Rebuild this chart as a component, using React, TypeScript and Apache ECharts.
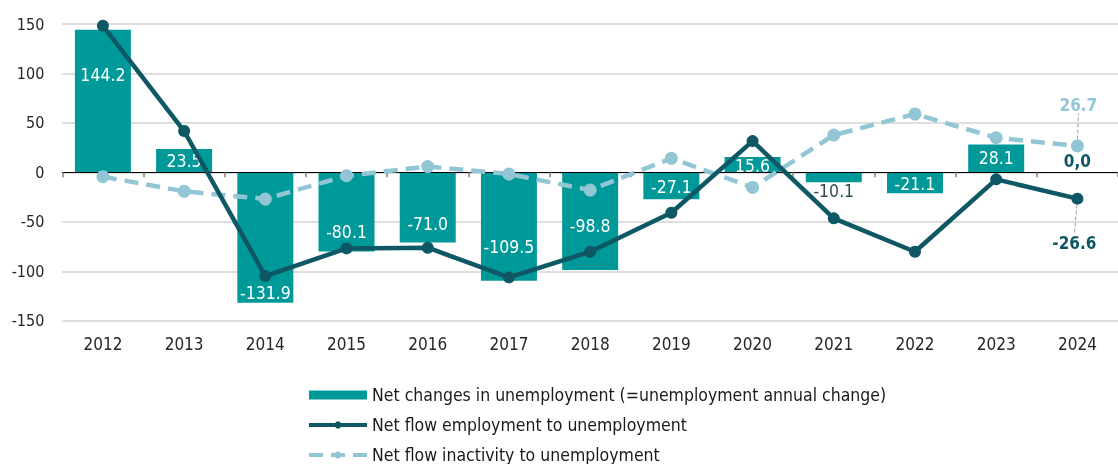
import React, { useEffect, useRef } from "react";
import * as echarts from "echarts";

const categories = ["2012", "2013", "2014", "2015", "2016", "2017", "2018", "2019", "2020", "2021", "2022", "2023", "2024"];
const netChange = [144.2, 23.5, -131.9, -80.1, -71.0, -109.5, -98.8, -27.1, 15.6, -10.1, -21.1, 28.1, 0.0];
const flowEmployment = [148.2, 41.8, -104.9, -76.9, -76.2, -106.2, -80.3, -40.8, 31.6, -46.5, -80.3, -7.1, -26.6];
const flowInactivity = [-4.4, -19.2, -27.0, -3.4, 5.8, -1.7, -17.9, 14.2, -15.2, 37.7, 59.0, 35.0, 26.7];
const seriesNames = [
  "Net changes in unemployment (=unemployment annual change)",
  "Net flow employment to unemployment",
  "Net flow inactivity to unemployment",
];
const yTicks = { min: -150, max: 150, interval: 50 };

// label styling (pixel shifts of bar labels)
const barLabelDy = [-26, 0, 55, 20, 17, 21, 5, 1, 1, 14, 1, 0, -11];

const FONT = "'DejaVu Sans Condensed', 'DejaVu Sans', sans-serif";
const TEAL = "#009999";
const DARK = "#0d5864";
const LIGHT = "#93c6d4";

export default function App() {
  const ref = useRef<HTMLDivElement>(null);
  useEffect(() => {
    if (!ref.current) return;
    const chart = echarts.init(ref.current, null, { renderer: "svg" });
    const last = categories.length - 1;
    chart.setOption({
      animation: false,
      textStyle: { fontFamily: FONT },
      grid: { left: 62.3, top: 24, right: -12, bottom: 143.3, containLabel: false },
      legend: {
        orient: "vertical",
        left: 302,
        top: 380,
        height: 120,
        itemWidth: 58,
        itemHeight: 9,
        itemGap: 10,
        textStyle: { fontFamily: FONT, fontSize: 17.5, color: "#1a1a1a", lineHeight: 20 },
        data: [
          { name: seriesNames[0], icon: "rect" },
          { name: seriesNames[1], lineStyle: { width: 4 } },
          { name: seriesNames[2], lineStyle: { width: 4 } },
        ],
      },
      xAxis: [
        {
          type: "category",
          data: categories,
          position: "bottom",
          axisLine: { show: true, onZero: true, lineStyle: { color: "#000", width: 1 } },
          axisTick: { show: true, length: 5, lineStyle: { color: "#7f7f7f", width: 1.5 } },
          axisLabel: { show: false },
          z: 3,
        },
        {
          type: "category",
          data: categories,
          position: "bottom",
          axisLine: { show: false, onZero: false },
          axisTick: { show: false },
          axisLabel: { show: true, margin: 15, fontSize: 17, color: "#262626", fontFamily: FONT },
        },
      ],
      yAxis: {
        type: "value",
        min: yTicks.min,
        max: yTicks.max,
        interval: yTicks.interval,
        axisLine: { show: false },
        axisTick: { show: false },
        axisLabel: { fontSize: 16, color: "#262626", margin: 18, fontFamily: FONT },
        splitLine: { lineStyle: { color: "#dedede", width: 2 } },
      },
      series: [
        {
          name: seriesNames[0],
          type: "bar",
          xAxisIndex: 0,
          barWidth: 56,
          itemStyle: { color: TEAL },
          z: 1,
          data: netChange.map((v, i) => ({
            value: v,
            label: {
              show: true,
              position: "inside",
              offset: [0, barLabelDy[i]],
              fontSize: i === last ? 17 : 17.5,
              fontFamily: FONT,
              color: i === last ? DARK : i === 9 ? "#2e4a54" : "#ffffff",
              fontWeight: i === last ? "bold" : "normal",
              formatter: () => (i === last ? v.toFixed(1).replace(".", ",") : v.toFixed(1)),
            },
          })),
        },
        {
          name: seriesNames[1],
          type: "line",
          xAxisIndex: 0,
          z: 4,
          symbol: "circle",
          symbolSize: 12,
          lineStyle: { color: DARK, width: 4.5 },
          itemStyle: { color: DARK },
          labelLine: { show: true, lineStyle: { color: "#a0a0a0", width: 1, type: "dashed" } },
          labelLayout: (p: any) => (p.dataIndex === last ? { dy: 25, dx: -3 } : {}),
          data: flowEmployment.map((v, i) =>
            i === last
              ? {
                  value: v,
                  label: {
                    show: true,
                    position: "bottom",
                    fontSize: 17,
                    fontWeight: "bold",
                    color: DARK,
                    fontFamily: FONT,
                    formatter: () => v.toFixed(1),
                  },
                }
              : v
          ),
        },
        {
          name: seriesNames[2],
          type: "line",
          xAxisIndex: 0,
          z: 3,
          symbol: "circle",
          symbolSize: 13,
          lineStyle: { color: LIGHT, width: 4.5, type: [14, 8] },
          itemStyle: { color: LIGHT },
          labelLine: { show: true, lineStyle: { color: "#a0a0a0", width: 1, type: "dashed" } },
          labelLayout: (p: any) => (p.dataIndex === last ? { dy: -21, dx: 1 } : {}),
          data: flowInactivity.map((v, i) =>
            i === last
              ? {
                  value: v,
                  label: {
                    show: true,
                    position: "top",
                    fontSize: 17,
                    fontWeight: "bold",
                    color: LIGHT,
                    fontFamily: FONT,
                    formatter: () => v.toFixed(1),
                  },
                }
              : v
          ),
        },
      ],
    });
    return () => chart.dispose();
  }, []);
  return (
    <div
      ref={ref}
      style={{ position: "fixed", left: 0, top: 0, width: 1118, height: 464, overflow: "hidden" }}
    />
  );
}
